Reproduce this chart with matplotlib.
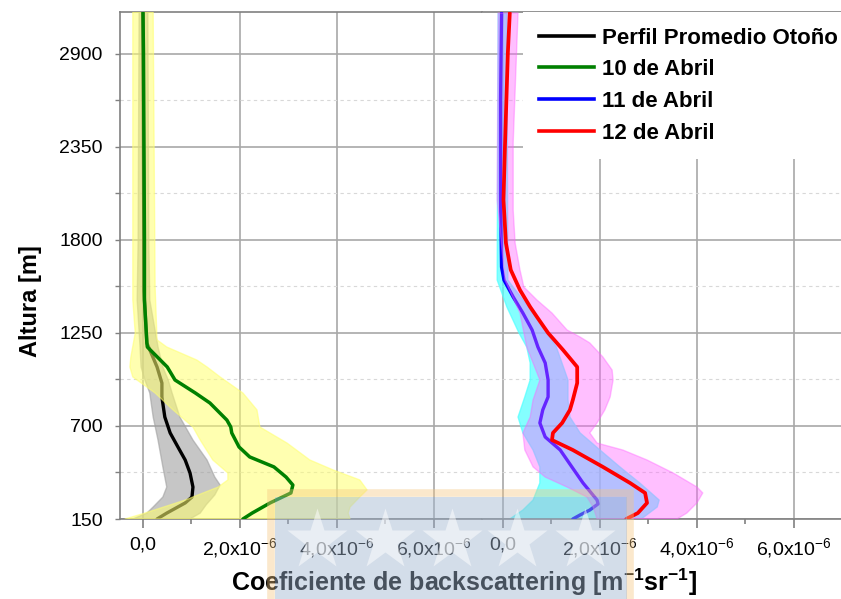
import matplotlib
matplotlib.use('Agg')
import matplotlib.pyplot as plt
import numpy as np
from matplotlib.ticker import FixedLocator, FuncFormatter
from matplotlib.patches import Rectangle
from matplotlib.lines import Line2D

plt.rcParams['font.family'] = ['Liberation Sans', 'DejaVu Sans']
plt.rcParams['mathtext.fontset'] = 'custom'
plt.rcParams['mathtext.rm'] = 'Liberation Sans'
plt.rcParams['mathtext.bf'] = 'Liberation Sans:bold'

E = 1e-6  # values below are in units of 1e-6 m^-1 sr^-1

# ---- left panel: autumn mean profile and 10 April ----
oto_alt = [3148, 1500, 1191, 1049, 954, 871, 753, 659, 576, 499, 422, 339, 280, 245, 185, 150]
oto_x = [0.0, 0.02, 0.08, 0.29, 0.39, 0.39, 0.45, 0.56, 0.72, 0.87, 0.97, 1.03, 1.01, 0.87, 0.49, 0.29]
oto_lo_alt = [3148, 1800, 1445, 1167, 1049, 972, 895, 753, 617, 458, 339, 280, 221, 185, 150]
oto_lo_x = [-0.08, -0.10, -0.12, -0.06, -0.04, 0.04, 0.14, 0.21, 0.31, 0.41, 0.49, 0.41, 0.21, 0.08, -0.21]
oto_hi_alt = [3148, 1800, 1445, 1167, 1049, 972, 895, 753, 617, 499, 398, 351, 292, 233, 185, 150]
oto_hi_x = [0.10, 0.12, 0.14, 0.31, 0.41, 0.52, 0.60, 0.76, 1.03, 1.32, 1.48, 1.59, 1.48, 1.30, 1.18, 0.97]

a10_alt = [3148, 2900, 1800, 1445, 1191, 1167, 1049, 972, 895, 836, 735, 694, 659, 576, 517, 458, 398, 351, 304, 245, 185, 150]
a10_x = [0.0, 0.01, 0.03, 0.03, 0.08, 0.09, 0.50, 0.66, 1.08, 1.38, 1.73, 1.81, 1.83, 1.98, 2.20, 2.70, 2.95, 3.09, 3.05, 2.62, 2.25, 2.06]
a10_lo_alt = [3148, 1445, 1250, 1108, 1049, 990, 895, 795, 694, 617, 499, 422, 381, 339, 262, 185, 150]
a10_lo_x = [-0.21, -0.21, -0.16, -0.25, -0.27, -0.21, 0.25, 0.62, 1.03, 1.18, 1.44, 1.75, 1.75, 1.55, 0.87, 0.04, -0.37]
a10_hi_alt = [3148, 1522, 1209, 1167, 1090, 1049, 990, 895, 795, 694, 599, 499, 440, 381, 322, 280, 221, 185, 150]
a10_hi_x = [0.21, 0.25, 0.29, 0.49, 1.11, 1.32, 1.59, 2.06, 2.35, 2.41, 2.97, 3.44, 3.92, 4.47, 4.62, 4.47, 4.27, 4.23, 4.27]

# ---- right panel: 11 and 12 April ----
a11_alt = [3142, 2628, 2037, 1640, 1563, 1463, 1368, 1268, 1167, 1073, 972, 872, 795, 718, 635, 558, 458, 363, 262, 239, 203, 174, 150]
a11_x = [-0.03, -0.05, -0.05, -0.03, 0.02, 0.21, 0.41, 0.60, 0.72, 0.87, 0.93, 0.93, 0.82, 0.76, 0.87, 1.18, 1.42, 1.65, 1.94, 1.96, 1.79, 1.59, 1.44]
a11_lo_alt = [3142, 1563, 1404, 1250, 1167, 1073, 972, 872, 753, 659, 558, 458, 363, 262, 203, 150]
a11_lo_x = [-0.10, -0.12, 0.08, 0.33, 0.49, 0.56, 0.56, 0.45, 0.31, 0.41, 0.62, 0.76, 0.76, 0.62, 0.41, 0.14]
a11_hi_alt = [3142, 1563, 1368, 1167, 972, 854, 753, 659, 558, 458, 363, 262, 221, 150]
a11_hi_x = [0.08, 0.10, 0.62, 1.10, 1.34, 1.34, 1.38, 1.59, 2.00, 2.41, 2.82, 3.22, 3.18, 2.85]

a12_alt = [3142, 2906, 2350, 2037, 1782, 1623, 1504, 1404, 1345, 1250, 1149, 1049, 954, 854, 795, 718, 659, 617, 558, 458, 363, 304, 245, 185, 150]
a12_x = [0.14, 0.10, 0.04, 0.01, 0.06, 0.16, 0.35, 0.56, 0.70, 0.93, 1.24, 1.53, 1.53, 1.44, 1.38, 1.22, 1.03, 1.01, 1.44, 2.06, 2.62, 2.93, 2.97, 2.78, 2.54]
a12_lo_alt = [3142, 2037, 1563, 1368, 1167, 972, 854, 753, 659, 558, 458, 398, 339, 280, 221, 150]
a12_lo_x = [-0.10, -0.12, 0.04, 0.35, 0.49, 0.76, 0.62, 0.56, 0.41, 0.45, 0.62, 0.87, 1.32, 1.73, 1.86, 1.94]
a12_hi_alt = [3142, 2374, 1977, 1782, 1623, 1522, 1445, 1368, 1268, 1226, 1191, 1108, 1031, 972, 872, 795, 718, 659, 599, 558, 499, 422, 339, 304, 245, 185, 150]
a12_hi_x = [0.31, 0.21, 0.21, 0.25, 0.35, 0.43, 0.70, 1.01, 1.32, 1.59, 1.79, 2.06, 2.25, 2.27, 2.21, 2.10, 1.94, 1.79, 1.94, 2.47, 2.97, 3.51, 4.00, 4.12, 4.00, 3.79, 3.59]

labels = ['Perfil Promedio Otoño', '10 de Abril', '11 de Abril', '12 de Abril']
x_major = [0, 2, 4, 6]
x_minor = [1, 3, 5, 7]
y_major = [150, 700, 1250, 1800, 2350, 2900]
y_minor = [425, 975, 1525, 2075, 2625]


def band(ax, lo_alt, lo_x, hi_alt, hi_x, color, alpha, z):
    xs = np.concatenate([np.array(lo_x), np.array(hi_x)[::-1]]) * E
    ys = np.concatenate([np.array(lo_alt), np.array(hi_alt)[::-1]])
    ax.fill(xs, ys, facecolor=color, edgecolor=color, lw=1.0, alpha=alpha,
            joinstyle='round', zorder=z)


def xfmt(v, pos):
    m = v / E
    if abs(m) < 1e-9:
        return '0,0'
    return ('%.1f' % m).replace('.', ',') + r'x10$^{-6}$'


fig = plt.figure(figsize=(8.41, 5.99), dpi=100)
ax1 = fig.add_axes([120/841, 80/599, 362/841, 507/599])
ax2 = fig.add_axes([482/841, 80/599, 359/841, 507/599], sharey=ax1)

line_kw = dict(solid_joinstyle='round', solid_capstyle='round')
band(ax1, oto_lo_alt, oto_lo_x, oto_hi_alt, oto_hi_x, '#a0a0a0', 0.6, 2)
ax1.plot(np.array(oto_x) * E, oto_alt, color='black', lw=2.4, zorder=3, **line_kw)
band(ax1, a10_lo_alt, a10_lo_x, a10_hi_alt, a10_hi_x, '#ffff70', 0.55, 4)
ax1.plot(np.array(a10_x) * E, a10_alt, color='#008000', lw=2.5, zorder=5, **line_kw)

band(ax2, a11_lo_alt, a11_lo_x, a11_hi_alt, a11_hi_x, '#50ffff', 0.7, 2)
ax2.plot(np.array(a11_x) * E, a11_alt, color='#0000ff', lw=2.4, zorder=3, **line_kw)
band(ax2, a12_lo_alt, a12_lo_x, a12_hi_alt, a12_hi_x, '#ff60ff', 0.4, 4)
ax2.plot(np.array(a12_x) * E, a12_alt, color='#ff0000', lw=2.7, zorder=5, **line_kw)

ax1.set_xlim(-0.474 * E, 6.99 * E)
ax2.set_xlim(-0.433 * E, 6.97 * E)
ax1.set_ylim(150, 3148)

for ax in (ax1, ax2):
    ax.set_axisbelow(True)
    ax.xaxis.set_major_locator(FixedLocator([v * E for v in x_major]))
    ax.xaxis.set_minor_locator(FixedLocator([v * E for v in x_minor]))
    ax.xaxis.set_major_formatter(FuncFormatter(xfmt))
    ax.yaxis.set_major_locator(FixedLocator(y_major))
    ax.yaxis.set_minor_locator(FixedLocator(y_minor))
    ax.grid(which='major', color='#a8a8a8', lw=1.2)
    ax.grid(which='minor', axis='y', color='#d8d8d8', lw=0.8, ls=(0, (3, 3)))
    ax.tick_params(axis='x', which='major', direction='out', length=6.5, width=1.2,
                   color='#808080', pad=6, labelsize=14)
    ax.tick_params(axis='x', which='minor', direction='out', length=3.5, width=1.2, color='#808080')
    ax.tick_params(axis='y', which='both', direction='out', length=3.5, width=1.0,
                   color='#808080', pad=9, labelsize=14)
    for s in ax.spines.values():
        s.set_color('#808080')
        s.set_linewidth(1.2)
    ax.spines['right'].set_visible(False)

ax2.spines['left'].set_visible(False)
ax2.tick_params(axis='y', which='both', left=False, labelleft=False)

handles = [Line2D([], [], color=c, lw=2.6) for c in ['black', '#008000', '#0000ff', '#ff0000']]
leg = ax2.legend(handles, labels, loc='upper right', bbox_to_anchor=(1.035, 1.0),
                 borderaxespad=0.0, borderpad=0.7, frameon=True, fancybox=False,
                 edgecolor='none', facecolor='white', framealpha=1.0,
                 prop={'size': 16, 'weight': 'bold'}, handlelength=2.5,
                 handletextpad=0.35, labelspacing=0.48)
leg.set_zorder(20)

fig.text(30/841, (599-301)/599, 'Altura [m]', rotation=90, ha='center', va='center',
         fontsize=17, fontweight='bold', zorder=3)
fig.text(464/841, (599-582)/599,
         r'Coeficiente de backscattering [m$^{\mathbf{-1}}$sr$^{\mathbf{-1}}$]',
         ha='center', va='center', fontsize=18, fontweight='bold', zorder=3)

# watermark over the bottom of the figure
fig.add_artist(Rectangle((271/841, -0.05), 359/841, (599-492.5)/599 + 0.05,
                         transform=fig.transFigure, facecolor='none',
                         edgecolor='#f5c680', lw=5.5, alpha=0.4, zorder=10))
fig.add_artist(Rectangle((275/841, -0.05), 352/841, (599-497)/599 + 0.05,
                         transform=fig.transFigure, facecolor='#9fb4cf',
                         edgecolor='none', alpha=0.45, zorder=10))
fig.add_artist(Line2D([317/841, 385/841, 452/841, 517/841, 585/841], [0.098] * 5,
                      transform=fig.transFigure, ls='none', marker='*', ms=46,
                      color='white', mec='none', alpha=0.5, zorder=11))

fig.savefig('out.png', dpi=100)
